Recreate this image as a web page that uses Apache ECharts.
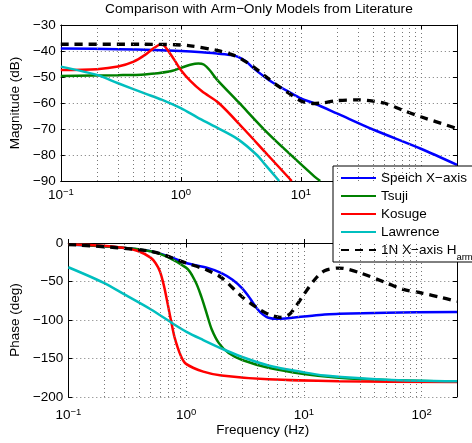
<!DOCTYPE html>
<html><head><meta charset="utf-8">
<script src="https://cdn.jsdelivr.net/npm/echarts@6/dist/echarts.min.js"></script>
<style>html,body{margin:0;padding:0;background:#fff}#c{width:472px;height:443px}</style>
</head><body><div id="c"></div>
<script>
// ---------- data ----------
const names = ['Speich X−axis', 'Tsuji', 'Kosuge', 'Lawrence', '1N X−axis H_arm'];
const colors = ['#0000ff', '#008000', '#ff0000', '#00bfbf', '#000000'];

// Magnitude (dB)
const speichMagF = [0.1, 0.3, 0.6, 1.0, 1.5, 2.0, 2.7, 3.0, 3.5, 4.0, 5.0, 6.0, 8.0, 10, 13, 20, 40, 100, 200];
const speichMag  = [-39.0, -39.3, -39.6, -40.0, -40.5, -41.0, -41.6, -42.3, -44.0, -46.5, -50.0, -52.5, -55.8, -58.2, -60.2, -64.0, -70.2, -77.6, -83.8];
const tsujiMagF  = [0.1, 0.3, 0.5, 0.8, 1.0, 1.2, 1.4, 1.55, 1.75, 2.0, 3.0, 5.0, 8.0, 13, 14.5];
const tsujiMag   = [-49.6, -49.3, -49.0, -47.9, -46.5, -45.3, -44.8, -45.2, -47.5, -51.0, -59.5, -70.4, -79.4, -88.3, -90.0];
const kosugeMagF = [0.1, 0.2, 0.3, 0.4, 0.5, 0.6, 0.68, 0.73, 0.8, 0.9, 1.0, 1.2, 1.5, 2.07, 3.35, 5.3, 8.4];
const kosugeMag  = [-47.3, -47.0, -46.0, -44.2, -41.6, -38.8, -37.5, -38.0, -40.5, -44.0, -47.3, -51.5, -55.5, -60.0, -70.0, -80.0, -90.0];
const lawMagF    = [0.1, 0.2, 0.3, 0.5, 0.7, 1.0, 1.37, 2.0, 3.0, 4.3, 5.0, 6.6];
const lawMag     = [-46.0, -49.2, -52.4, -56.3, -58.8, -62.0, -65.5, -69.5, -74.0, -80.0, -83.5, -90.0];
const harmMagF   = [0.1, 0.5, 0.9, 1.2, 2.0, 2.7, 3.3, 4.0, 5.0, 6.0, 8.0, 10, 12.5, 15, 20, 30, 40, 50, 70, 100, 200];
const harmMag    = [-37.4, -37.4, -37.6, -38.0, -39.8, -41.5, -43.5, -46.0, -49.5, -52.4, -56.3, -59.2, -60.2, -60.0, -59.1, -58.8, -59.3, -60.1, -62.7, -65.3, -69.8];

// Phase (deg)
const speichPhF  = [0.1, 0.2, 0.3, 0.5, 0.7, 1.0, 1.5, 2.0, 2.5, 3.0, 3.5, 4.0, 4.5, 5.0, 6.0, 10, 15, 20, 50, 200];
const speichPh   = [-2.0, -4.3, -6.5, -10.8, -17, -26, -32, -39, -48, -59, -72, -85, -93, -97, -98.5, -95.5, -92.7, -92, -90.5, -89.5];
const tsujiPhF   = [0.1, 0.5, 1.0, 1.2, 1.35, 1.5, 1.65, 1.9, 2.3, 3.0, 5.0, 10, 20, 50, 200];
const tsujiPh    = [-2, -10.8, -32, -50, -70, -92, -112, -130, -143, -152, -162, -170, -175, -178, -180];
const kosugePhF  = [0.1, 0.2, 0.3, 0.4, 0.5, 0.55, 0.6, 0.65, 0.7, 0.75, 0.8, 0.9, 1.0, 1.4, 2.0, 5.0, 20, 200];
const kosugePh   = [-1.5, -3.5, -6.5, -11, -19, -26, -37, -56, -80, -103, -123, -146, -157, -167, -172, -177, -179.5, -180.5];
const lawPhF     = [0.1, 0.2, 0.3, 0.5, 0.75, 1.0, 1.4, 2.0, 3.0, 5.0, 10, 15, 50, 200];
const lawPh      = [-31.5, -51.7, -66.8, -86, -103.4, -115, -126, -137, -148, -159, -168, -172, -177.5, -179.5];
const harmPhF    = [0.1, 0.5, 1.0, 1.5, 2.0, 3.0, 4.0, 5.0, 6.3, 7.5, 8.5, 10, 12.3, 15, 20, 30, 50, 70, 100, 150, 200];
const harmPh     = [-2, -10.8, -26, -35, -45, -70, -84, -92.5, -96.5, -93, -83, -67, -48, -36, -32.5, -38.8, -51.7, -60.3, -65, -71, -76];

// axis ranges / ticks
const fMin = 0.1, fMax = 200;
const magMin = -90, magMax = -30, magStep = 10;
const phMin = -200, phMax = 0, phStep = 50;

// ---------- build ----------
const zip = (xs, ys) => xs.map((x, i) => [x, ys[i]]);
const magSets = [zip(speichMagF, speichMag), zip(tsujiMagF, tsujiMag), zip(kosugeMagF, kosugeMag), zip(lawMagF, lawMag), zip(harmMagF, harmMag)];
const phSets  = [zip(speichPhF, speichPh), zip(tsujiPhF, tsujiPh), zip(kosugePhF, kosugePh), zip(lawPhF, lawPh), zip(harmPhF, harmPh)];

const minorGrid = [];
[0.1, 1, 10, 100].forEach(d => { for (let k = 2; k <= 9; k++) { const v = +(k * d).toPrecision(6); if (v < fMax) minorGrid.push(v); } });

const FONT = "'Liberation Sans', Arial, Helvetica, sans-serif";
const minus = s => String(s).replace('-', '−');
const gridLine = { color: '#777', width: 1, type: [1, 3] };

function logLabel(v) {
  const e = Math.log10(v), r = Math.round(e);
  if (Math.abs(e - r) > 1e-6) return '';
  return '{b|10}{s|' + (r < 0 ? '−' + (-r) : r) + '}';
}
const logRich = {
  b: { fontSize: 13.5, lineHeight: 15, padding: [6, 0, 0, 0], verticalAlign: 'bottom', color: '#000', fontFamily: FONT },
  s: { fontSize: 9.5, lineHeight: 10, verticalAlign: 'top', color: '#000', fontFamily: FONT }
};

function xMain(gi, margin, extra) {
  return Object.assign({
    type: 'log', logBase: 10, gridIndex: gi, min: fMin, max: fMax, position: 'bottom',
    axisLine: { show: true, lineStyle: { color: '#000', width: 1 } },
    axisTick: { show: true, inside: true, length: 4, lineStyle: { color: '#000' } },
    axisLabel: { formatter: logLabel, rich: logRich, margin: margin, color: '#000' },
    splitLine: { show: true, lineStyle: gridLine },
    minorTick: { show: false }, minorSplitLine: { show: false }
  }, extra || {});
}
function xMirror(gi, extra) {
  return Object.assign({
    type: 'log', logBase: 10, gridIndex: gi, min: fMin, max: fMax, position: 'top',
    axisLine: { show: true, lineStyle: { color: '#000', width: 1 } },
    axisTick: { show: true, inside: true, length: 4, lineStyle: { color: '#000' } },
    axisLabel: { show: false }, splitLine: { show: false }
  }, extra || {});
}
function yMain(gi, mn, mx, step, name, gap) {
  return {
    type: 'value', gridIndex: gi, min: mn, max: mx, interval: step, position: 'left',
    name: name, nameLocation: 'middle', nameGap: gap, nameRotate: 90,
    nameTextStyle: { fontSize: 13.5, color: '#000', fontFamily: FONT },
    axisLine: { show: true, lineStyle: { color: '#000', width: 1 } },
    axisTick: { show: true, inside: true, length: 4, lineStyle: { color: '#000' } },
    axisLabel: { formatter: minus, margin: 5, fontSize: 13.5, color: '#000', fontFamily: FONT },
    splitLine: { show: true, lineStyle: gridLine }
  };
}
function yMirror(gi, mn, mx, step) {
  return {
    type: 'value', gridIndex: gi, min: mn, max: mx, interval: step, position: 'right',
    axisLine: { show: true, lineStyle: { color: '#000', width: 1 } },
    axisTick: { show: true, inside: true, length: 4, lineStyle: { color: '#000' } },
    axisLabel: { show: false }, splitLine: { show: false }
  };
}

const series = [];
[0, 1].forEach(gi => {
  series.push({
    type: 'line', name: 'minorgrid' + gi, xAxisIndex: gi * 2, yAxisIndex: gi * 2, data: [], z: 1, silent: true,
    markLine: { silent: true, symbol: 'none', label: { show: false }, lineStyle: gridLine, animation: false,
      data: minorGrid.map(v => ({ xAxis: v })) }
  });
});
names.forEach((n, i) => {
  const dashed = i === 4;
  const ls = { color: colors[i], width: dashed ? 3.3 : 2.5, type: dashed ? [8, 6] : 'solid' };
  series.push({ type: 'line', name: n, xAxisIndex: 0, yAxisIndex: 0, data: magSets[i], showSymbol: false, symbol: 'none',
    smooth: 0.3, lineStyle: ls, itemStyle: { color: colors[i] }, z: 3, clip: true });
  series.push({ type: 'line', name: n, xAxisIndex: 2, yAxisIndex: 2, data: phSets[i], showSymbol: false, symbol: 'none',
    smooth: 0.3, lineStyle: ls, itemStyle: { color: colors[i] }, z: 3, clip: true });
});

const chart = echarts.init(document.getElementById('c'), null, { renderer: 'canvas' });
chart.setOption({
  animation: false,
  backgroundColor: '#fff',
  textStyle: { fontFamily: FONT },
  grid: [
    { left: 58, top: 25, width: 399, height: 156 },
    { left: 58, top: 243, width: 399, height: 154 }
  ],
  xAxis: [
    xMain(0, 6),
    xMirror(0, { name: 'Comparison with Arm−Only Models from Literature', nameLocation: 'middle', nameGap: 9,
      nameTextStyle: { fontSize: 13.7, color: '#000', fontFamily: FONT } }),
    xMain(1, 10, { name: 'Frequency (Hz)', nameLocation: 'middle', nameGap: 25,
      nameTextStyle: { fontSize: 13.5, color: '#000', fontFamily: FONT } }),
    xMirror(1)
  ],
  yAxis: [
    yMain(0, magMin, magMax, magStep, 'Magnitude (dB)', 28),
    yMirror(0, magMin, magMax, magStep),
    yMain(1, phMin, phMax, phStep, 'Phase (deg)', 43),
    yMirror(1, phMin, phMax, phStep)
  ],
  legend: {
    data: names, orient: 'vertical', left: 333, top: 166,
    backgroundColor: '#fff', borderColor: '#000', borderWidth: 1, borderRadius: 0,
    padding: [0, 50, 0, 7], itemWidth: 35, itemHeight: 24, itemGap: -6,
    itemStyle: { opacity: 0, borderWidth: 0 },
    selectedMode: false,
    formatter: n => n.replace('_arm', '{sub|arm}'),
    textStyle: { fontSize: 13.5, lineHeight: 24, color: '#000', fontFamily: FONT,
      rich: { sub: { fontSize: 9.5, lineHeight: 10, verticalAlign: 'bottom', color: '#000', fontFamily: FONT } } }
  },
  series: series
});
</script></body></html>
